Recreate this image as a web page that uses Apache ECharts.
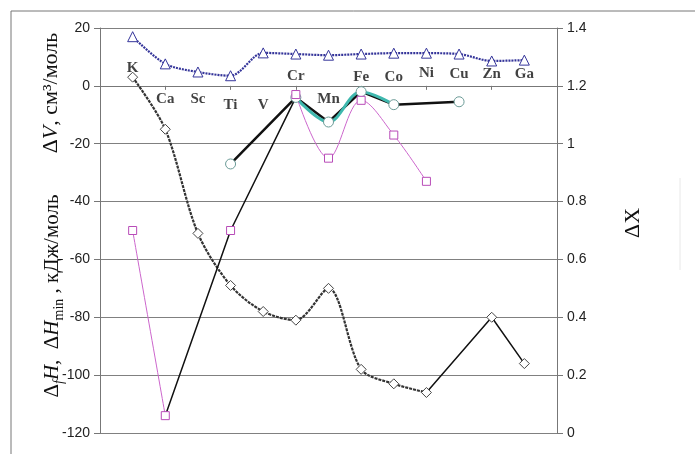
<!DOCTYPE html>
<html>
<head>
<meta charset="utf-8">
<script src="https://cdn.jsdelivr.net/npm/echarts@6/dist/echarts.min.js"></script>
<style>
  html, body { margin: 0; padding: 0; background: #fff; }
  #chart { width: 695px; height: 454px; }
</style>
</head>
<body>
<div id="chart"></div>
<script>
// elements and their atomic numbers (x axis is Z, ticks every 2)
var elements = ['K', 'Ca', 'Sc', 'Ti', 'V', 'Cr', 'Mn', 'Fe', 'Co', 'Ni', 'Cu', 'Zn', 'Ga'];
var atomicZ = [19, 20, 21, 22, 23, 24, 25, 26, 27, 28, 29, 30, 31];
// where the element names sit, in left-axis units
var labelAt = [6, -4.5, -4.5, -6.5, -6.5, 3.5, -4.5, 3, 3, 4.5, 4, 4, 4];

// ΔV, cm3/mol
var dV = [17, 7.6, 4.8, 3.5, 11.4, 11, 10.6, 11, 11.3, 11.3, 11, 8.6, 8.9];
// ΔfH, kJ/mol (diamonds)
var dH = [3, -15, -51, -69, -78, -81, -70, -98, -103, -106, null, null, null];
// pink squares
var hPink = [-50, -114, null, -50, null, -3, -25, -5, -17, -33, null, null, null];
// ΔHmin, circles
var hMin = [null, null, null, -27, null, -4, -12.5, -2, -6.5, null, -5.5, null, null];
// ΔX, right axis
var dX = [null, 0.06, null, 0.70, null, 1.16, null, null, null, 0.14, null, 0.40, 0.24];

function pairs(vals) {
  return vals.map(function(v, i) { return [atomicZ[i], v]; });
}
function slice(vals, from, to) {
  return vals.map(function(v, i) { return (i >= from && i <= to) ? v : null; });
}

var chart = echarts.init(document.getElementById('chart'));
var tickFont = {fontFamily: 'Liberation Sans', fontSize: 14, color: '#222'};
var serif = 'Liberation Serif';

chart.setOption({
  animation: false,
  grid: {left: 100, right: 138, top: 28, bottom: 21},
  xAxis: {
    type: 'value',
    min: 18,
    max: 32,
    interval: 2,
    axisLine: {onZero: true, onZeroAxisIndex: 0, lineStyle: {color: '#777'}},
    axisTick: {show: true, length: 4, lineStyle: {color: '#777'}},
    axisLabel: {show: false},
    splitLine: {show: false}
  },
  yAxis: [
    {
      type: 'value',
      min: -120,
      max: 20,
      interval: 20,
      axisLine: {show: true, lineStyle: {color: '#777'}},
      axisTick: {show: true, length: 6, lineStyle: {color: '#777'}},
      axisLabel: Object.assign({margin: 10}, tickFont),
      splitLine: {lineStyle: {color: '#808080', width: 1}}
    },
    {
      type: 'value',
      min: 0,
      max: 1.4,
      interval: 0.2,
      position: 'right',
      axisLine: {show: true, lineStyle: {color: '#777'}},
      axisTick: {show: true, length: 6, lineStyle: {color: '#777'}},
      axisLabel: Object.assign({margin: 10}, tickFont),
      splitLine: {show: false}
    }
  ],
  series: [
    {
      name: 'dV',
      type: 'line',
      data: pairs(dV),
      smooth: 0.3,
      symbol: 'triangle',
      symbolSize: 10,
      lineStyle: {color: '#35359a', width: 2.2, type: [2, 1]},
      itemStyle: {color: '#fff', borderColor: '#35359a', borderWidth: 1}
    },
    {
      name: 'dH',
      type: 'line',
      data: pairs(dH),
      smooth: 0.3,
      symbol: 'diamond',
      symbolSize: 10,
      lineStyle: {color: '#333', width: 2.2, type: [3, 1]},
      itemStyle: {color: '#fff', borderColor: '#444', borderWidth: 1}
    },
    {
      name: 'dX',
      type: 'line',
      yAxisIndex: 1,
      data: pairs(slice(dX, 0, 5)),
      connectNulls: true,
      showSymbol: false,
      lineStyle: {color: '#111', width: 1.5}
    },
    {
      name: 'dX2',
      type: 'line',
      yAxisIndex: 1,
      data: pairs(slice(dX, 9, 12)),
      connectNulls: true,
      symbol: function(v, p) { return p.dataIndex >= 11 ? 'diamond' : 'none'; },
      symbolSize: 10,
      lineStyle: {color: '#111', width: 1.5},
      itemStyle: {color: '#fff', borderColor: '#444', borderWidth: 1}
    },
    {
      name: 'hMinLine',
      type: 'line',
      data: pairs(hMin),
      connectNulls: true,
      showSymbol: false,
      lineStyle: {color: '#111', width: 2.5}
    },
    {
      name: 'hMinTeal',
      type: 'line',
      data: pairs(slice(hMin, 5, 8)),
      smooth: 0.35,
      showSymbol: false,
      lineStyle: {color: '#3fb8ae', width: 3}
    },
    {
      name: 'hMin',
      type: 'line',
      data: pairs(hMin),
      symbol: 'circle',
      symbolSize: 10,
      lineStyle: {opacity: 0},
      itemStyle: {color: '#fff', borderColor: '#6a9a96', borderWidth: 1}
    },
    {
      name: 'hPink',
      type: 'line',
      data: pairs(hPink),
      smooth: 0.35,
      symbol: 'rect',
      symbolSize: 8,
      lineStyle: {color: '#cc66cc', width: 1},
      itemStyle: {color: '#fff', borderColor: '#b84cb8', borderWidth: 1}
    },
    {
      name: 'names',
      type: 'scatter',
      data: pairs(labelAt),
      symbolSize: 1,
      itemStyle: {color: 'rgba(0,0,0,0)'},
      label: {
        show: true,
        position: 'inside',
        formatter: function(p) { return elements[p.dataIndex]; },
        fontFamily: serif,
        fontWeight: 'bold',
        fontSize: 15,
        color: '#111'
      }
    }
  ],
  graphic: [
    {
      type: 'rect',
      shape: {x: 11, y: 11, width: 700, height: 460},
      style: {fill: 'none', stroke: '#777', lineWidth: 1},
      silent: true
    },
    {
      type: 'line',
      shape: {x1: 680, y1: 178, x2: 680, y2: 270},
      style: {stroke: '#e8e8e8', lineWidth: 1},
      silent: true
    },
    {
      type: 'text',
      x: 51,
      y: 93,
      rotation: Math.PI / 2,
      style: {
        text: '{n|Δ}{i|V}{n|, см³/моль}',
        align: 'center',
        verticalAlign: 'middle',
        rich: {
          n: {fontFamily: serif, fontSize: 22, fill: '#111'},
          i: {fontFamily: serif, fontSize: 22, fontStyle: 'italic', fill: '#111'}
        }
      },
      silent: true
    },
    {
      type: 'text',
      x: 52,
      y: 296,
      rotation: Math.PI / 2,
      style: {
        text: '{n|Δ}{s|f}{i|H}{n|,  Δ}{i|H}{m|min}{n| , кДж/моль}',
        align: 'center',
        verticalAlign: 'middle',
        rich: {
          n: {fontFamily: serif, fontSize: 21, fill: '#111', verticalAlign: 'bottom'},
          i: {fontFamily: serif, fontSize: 21, fontStyle: 'italic', fill: '#111', verticalAlign: 'bottom'},
          s: {fontFamily: serif, fontSize: 14, fontStyle: 'italic', fill: '#111', verticalAlign: 'bottom', padding: [0, 0, -4, 0]},
          m: {fontFamily: serif, fontSize: 14, fill: '#111', verticalAlign: 'bottom', padding: [0, 0, -4, 0]}
        }
      },
      silent: true
    },
    {
      type: 'text',
      x: 633,
      y: 223,
      rotation: Math.PI / 2,
      style: {
        text: 'ΔX',
        align: 'center',
        verticalAlign: 'middle',
        fontFamily: serif,
        fontSize: 22,
        fill: '#111'
      },
      silent: true
    }
  ]
});
</script>
</body>
</html>
